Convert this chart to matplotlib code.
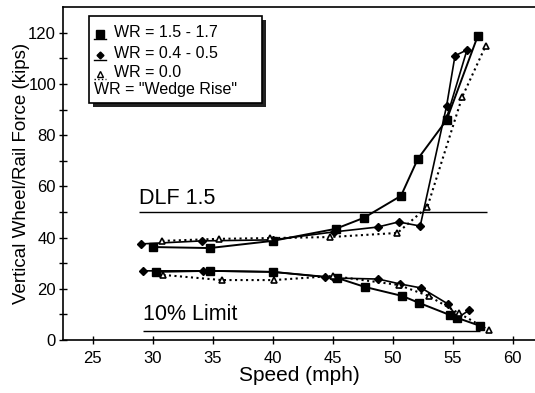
import numpy as np
import matplotlib.pyplot as plt
from matplotlib.patches import Rectangle
from matplotlib.lines import Line2D

plt.rcParams['font.family'] = ['Liberation Sans', 'DejaVu Sans']

# WR = 1.5 - 1.7 (squares)
sq_up_x = [30.0, 34.75, 40.0, 45.25, 47.6, 50.7, 52.1, 54.5, 57.1]
sq_up_y = [36.3, 35.9, 38.7, 43.4, 47.7, 56.3, 70.7, 85.9, 118.75]
sq_lo_x = [30.25, 34.75, 40.0, 45.4, 47.7, 50.8, 52.2, 54.75, 55.4, 57.3]
sq_lo_y = [26.6, 27.0, 26.6, 24.2, 20.7, 17.2, 14.5, 9.8, 8.6, 5.5]

# WR = 0.4 - 0.5 (diamonds)
di_up_x = [29.0, 34.1, 40.0, 45.1, 48.75, 50.5, 52.3, 54.5, 55.2, 56.2, 54.5]
di_up_y = [37.5, 38.7, 39.1, 42.2, 44.1, 46.1, 44.5, 91.4, 111.0, 113.3, 86.7]
di_lo_x = [29.2, 34.2, 40.0, 44.4, 45.1, 48.8, 50.6, 52.4, 54.6, 55.4, 56.4]
di_lo_y = [27.0, 27.0, 26.6, 24.6, 24.2, 23.8, 21.9, 20.3, 14.1, 8.6, 11.7]

# WR = 0.0 (triangles)
tr_up_x = [30.8, 35.5, 39.8, 44.8, 50.4, 52.9, 55.8, 57.75]
tr_up_y = [38.7, 39.5, 39.8, 40.2, 41.8, 52.0, 94.9, 114.8]
tr_lo_x = [30.9, 35.75, 40.1, 45.0, 50.5, 53.0, 55.5, 58.0]
tr_lo_y = [25.4, 23.4, 23.4, 25.0, 21.5, 17.2, 10.5, 3.9]

dlf_x = [28.9, 57.9]
dlf_y = 50
lim_x = [29.2, 57.3]
lim_y = 3.5

fig = plt.figure(figsize=(5.35, 3.93), dpi=100)
ax = fig.add_axes([0.1178, 0.1349, 0.882, 0.847])

ax.plot(sq_up_x, sq_up_y, '-', color='black', lw=1.4, marker='s', ms=6)
ax.plot(sq_lo_x, sq_lo_y, '-', color='black', lw=1.4, marker='s', ms=6)
ax.plot(di_up_x, di_up_y, '-', color='black', lw=1.2, marker='D', ms=4)
ax.plot(di_lo_x, di_lo_y, '-', color='black', lw=1.2, marker='D', ms=4)
ax.plot(tr_up_x, tr_up_y, ':', color='black', lw=1.5, marker='^', ms=5,
        mfc='white', mew=1.2)
ax.plot(tr_lo_x, tr_lo_y, ':', color='black', lw=1.5, marker='^', ms=5,
        mfc='white', mew=1.2)

ax.hlines(dlf_y, dlf_x[0], dlf_x[1], color='black', lw=1.0)
ax.hlines(lim_y, lim_x[0], lim_x[1], color='black', lw=1.0)
ax.text(dlf_x[0], dlf_y + 1.3, 'DLF 1.5', fontsize=15.5, va='bottom', ha='left')
ax.text(lim_x[0], lim_y + 2.2, '10% Limit', fontsize=15.5, va='bottom', ha='left')

ax.set_xlim(22.53, 61.86)
ax.set_ylim(0, 130)
ax.set_xticks([25, 30, 35, 40, 45, 50, 55, 60])
ax.set_yticks(np.arange(0, 121, 20))
ax.set_yticks(np.arange(10, 121, 20), minor=True)
ax.tick_params(axis='both', which='both', direction='inout', length=6,
               width=1.0, labelsize=12)
ax.tick_params(axis='x', pad=5)
ax.tick_params(axis='y', pad=2)
ax.spines['right'].set_visible(False)
for s in ['top', 'left', 'bottom']:
    ax.spines[s].set_linewidth(1.2)

ax.set_xlabel('Speed (mph)', fontsize=15, labelpad=0)
ax.set_ylabel('Vertical Wheel/Rail Force (kips)', fontsize=13.5, labelpad=-1)

# legend box with drop shadow
x0, x1, y0, y1 = 0.055, 0.4216, 0.712, 0.973
ax.add_patch(Rectangle((x0 + 0.008, y0 - 0.012), x1 - x0, y1 - y0,
                       transform=ax.transAxes, facecolor='#222222',
                       edgecolor='none', zorder=5))
ax.add_patch(Rectangle((x0, y0), x1 - x0, y1 - y0, transform=ax.transAxes,
                       facecolor='white', edgecolor='black', lw=1.2, zorder=6))
rows = [0.925, 0.862, 0.805]
labels = ['WR = 1.5 - 1.7', 'WR = 0.4 - 0.5', 'WR = 0.0']
styles = [('s', '-', 6, 'black'), ('D', '-', 3.5, 'black'), ('^', ':', 4.5, 'white')]
for yy, lab, (m, ls, ms, fc) in zip(rows, labels, styles):
    ax.add_line(Line2D([0.066, 0.092], [yy - 0.022, yy - 0.022], color='black',
                       ls=ls, lw=1.0, transform=ax.transAxes, zorder=7))
    ax.add_line(Line2D([0.079], [yy - 0.005], marker=m, ms=ms, mfc=fc,
                       mec='black', color='black', transform=ax.transAxes, zorder=7))
    ax.text(0.108, yy, lab, transform=ax.transAxes, fontsize=11.5,
            va='center', ha='left', zorder=7)
ax.text(0.066, 0.751, 'WR = "Wedge Rise"', transform=ax.transAxes,
        fontsize=11.5, va='center', ha='left', zorder=7)

fig.savefig('out.png', dpi=100)
